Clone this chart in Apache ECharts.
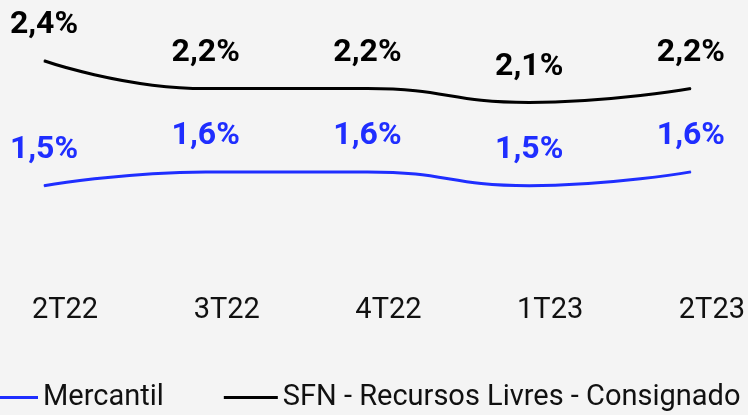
<!DOCTYPE html>
<html>
<head>
<meta charset="utf-8">
<script src="https://cdn.jsdelivr.net/npm/echarts@6/dist/echarts.min.js"></script>
<style>
  html, body { margin: 0; padding: 0; background: #f4f4f4; }
  #main { width: 748px; height: 415px; }
</style>
</head>
<body>
<div id="main"></div>
<script>
// categorias (trimestres)
var quarters = ['2T22', '3T22', '4T22', '1T23', '2T23'];
// séries
var mercantil = [1.5, 1.6, 1.6, 1.5, 1.6];
var sfn = [2.4, 2.2, 2.2, 2.1, 2.2];

var blue = '#1f2eff';
var black = '#000000';

function pct(p) {
    return p.value.toFixed(1).replace('.', ',') + '%';
}

var chart = echarts.init(document.getElementById('main'));

var option = {
    backgroundColor: '#f4f4f4',
    animation: false,
    textStyle: { fontFamily: 'Roboto' },
    grid: { left: 44, right: 48, top: 33, bottom: 132 },
    legend: {
        left: -16,
        top: 383,
        width: 900,
        padding: 0,
        icon: 'rect',
        itemWidth: 54,
        itemHeight: 3,
        itemGap: 60,
        textStyle: { fontSize: 29, color: '#111', fontFamily: 'Roboto' },
        data: ['Mercantil', 'SFN - Recursos Livres - Consignado']
    },
    xAxis: {
        type: 'category',
        data: quarters,
        boundaryGap: false,
        axisLine: { show: false },
        axisTick: { show: false },
        splitLine: { show: false },
        axisLabel: {
            interval: 0,
            margin: 13,
            fontSize: 29,
            color: '#111',
            padding: [0, 0, 0, 42]
        }
    },
    yAxis: {
        type: 'value',
        min: 0.8,
        max: 2.6,
        show: false
    },
    series: [{
        name: 'Mercantil',
        type: 'line',
        data: mercantil,
        smooth: 0.5,
        symbol: 'circle',
        symbolSize: 1,
        color: blue,
        lineStyle: { width: 3, color: blue },
        label: {
            show: true,
            position: 'top',
            distance: 19,
            formatter: pct,
            fontSize: 32,
            fontWeight: 'bold',
            color: blue
        }
    }, {
        name: 'SFN - Recursos Livres - Consignado',
        type: 'line',
        data: sfn,
        smooth: 0.5,
        symbol: 'circle',
        symbolSize: 1,
        color: black,
        lineStyle: { width: 3, color: black },
        label: {
            show: true,
            position: 'top',
            distance: 19,
            formatter: pct,
            fontSize: 32,
            fontWeight: 'bold',
            color: black
        }
    }]
};

chart.setOption(option);
</script>
</body>
</html>
